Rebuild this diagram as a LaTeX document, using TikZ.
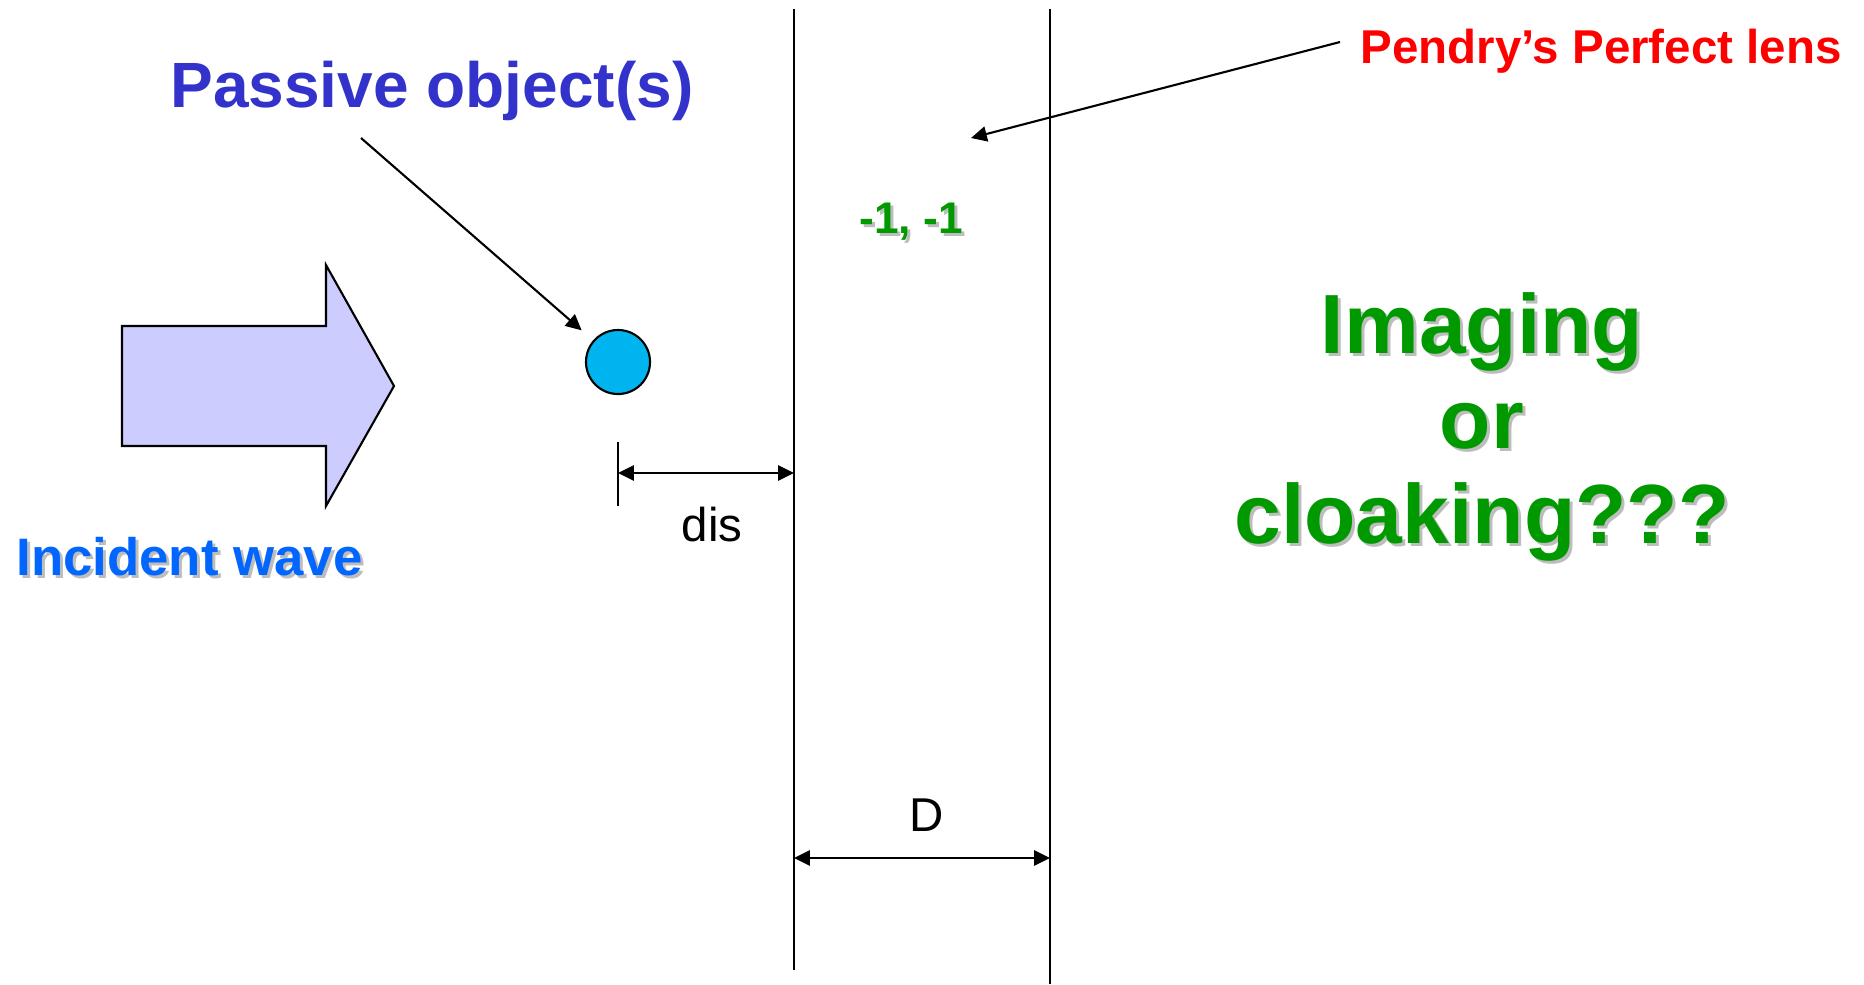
\documentclass[tikz,border=0pt]{standalone}
\usepackage{fontspec}
\setmainfont{Liberation Sans}
\usetikzlibrary{arrows.meta,calc,positioning}
\definecolor{slabInk}   {HTML}{000000}
\definecolor{objFill}   {HTML}{00B4F0}
\definecolor{waveFill}  {HTML}{CCCCFF}
\definecolor{waveText}  {HTML}{0066FF}
\definecolor{objText}   {HTML}{3333CC}
\definecolor{lensText}  {HTML}{FF0000}
\definecolor{askText}   {HTML}{009900}
\definecolor{shadeGray} {HTML}{BDBDBD}
\newcommand{\shadelbl}[4]{%
  \node[#3, text=shadeGray] (#1-sh) at ($(#2)+(3,3)$) {#4};
  \node[#3] (#1) at (#2) {#4};
}

\begin{document}
\begin{tikzpicture}[x=0.01cm, y=-0.01cm,
  every node/.style ={inner sep=0pt, anchor=base},
  slab/.style       ={line width=0.6pt, slabInk},
  wave/.style       ={draw=slabInk, line width=0.6pt, fill=waveFill},
  obj/.style        ={circle, anchor=center, draw=slabInk, line width=0.6pt, fill=objFill, minimum size=0.64cm},
  ptr/.style        ={-{Triangle[length=4.5pt, width=4.3pt]}, line width=0.6pt, slabInk},
  dim/.style        ={{Triangle[length=4.5pt, width=4.3pt]}-{Triangle[length=4.5pt, width=4.3pt]}, line width=0.65pt, slabInk},
  tick/.style       ={line width=0.6pt, slabInk},
  olbl/.style       ={font=\fontsize{18.2}{22}\selectfont\bfseries, text=objText},
  wlbl/.style       ={font=\fontsize{15}{18}\selectfont\bfseries, text=waveText},
  plbl/.style       ={font=\fontsize{13.5}{16}\selectfont\bfseries, text=lensText},
  glbl/.style       ={font=\fontsize{12.6}{15}\selectfont\bfseries, text=askText},
  qlbl/.style       ={font=\fontsize{23.9}{27}\selectfont\bfseries, text=askText, align=center},
  dlbl/.style       ={font=\fontsize{13.5}{16}\selectfont, text=slabInk},
]
\useasboundingbox (0,0) rectangle (1864,984);

% lens slab
\coordinate (lensLtop) at (794,9);
\coordinate (lensLbot) at (794,970);
\coordinate (lensRtop) at (1050,9);
\coordinate (lensRbot) at (1050,984);
\draw[slab] (lensLtop) -- (lensLbot);
\draw[slab] (lensRtop) -- (lensRbot);

% incident wave
\filldraw[wave] (122,326) -- (326,326) -- (326,265) -- (394,386) -- (326,506) -- (326,446) -- (122,446) -- cycle;
\shadelbl{waveLbl}{189.5,575}{wlbl}{Incident wave}

% passive object
\node[obj] (obj) at (618,362) {};
\node[olbl] (objLbl) at (432,107) {Passive object(s)};
\coordinate (objTail) at (361,138);
\draw[ptr, shorten >=4.3pt] (objTail) -- (obj);

% distance to the lens
\coordinate (disTop) at (618,442);
\coordinate (disBot) at (618,506);
\draw[tick] (disTop) -- (disBot);
\coordinate (disL) at (618,473);
\coordinate (disR) at (lensLtop |- disL);
\draw[dim] (disL) -- (disR);
\node[dlbl] (disLbl) at (712,541) {dis};

% lens thickness
\coordinate (thkL) at (794,858);
\coordinate (thkR) at (lensRtop |- thkL);
\draw[dim] (thkL) -- (thkR);
\node[dlbl] (thkLbl) at (927,831) {D};

% lens label
\node[plbl] (lensLbl) at (1601,63) {Pendry’s Perfect lens};
\coordinate (lensTail) at (1340,42);
\coordinate (lensTip) at (971,138);
\draw[ptr] (lensTail) -- (lensTip);
\shadelbl{epsLbl}{911,233}{glbl}{-1, -1}

% question (base = last line)
\shadelbl{askLbl}{1482,543}{qlbl}{Imaging\\or\\cloaking???}

\end{tikzpicture}
\end{document}
